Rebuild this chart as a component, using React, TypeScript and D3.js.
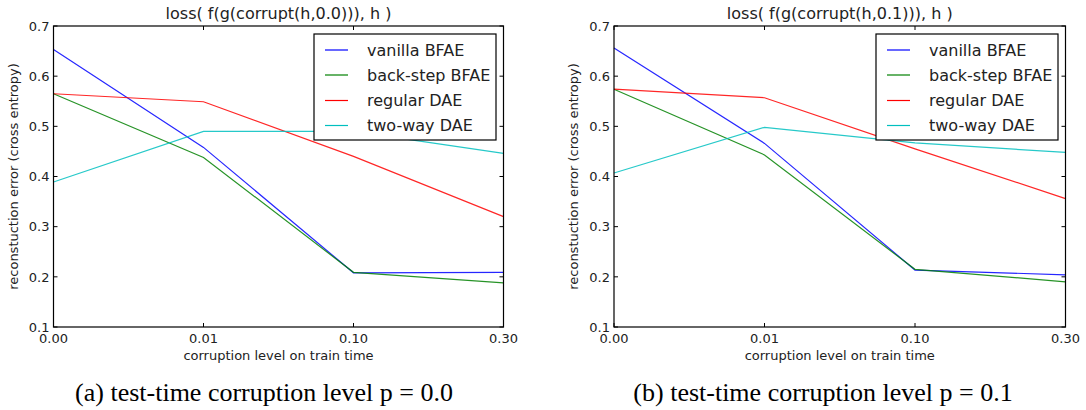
import React from 'react';
import * as d3 from 'd3';

// train-time corruption levels (x axis, evenly spaced categories)
const categories = ['0.00', '0.01', '0.10', '0.30'];
const yTicks = [0.1, 0.2, 0.3, 0.4, 0.5, 0.6, 0.7];

const seriesNames = ['vanilla BFAE', 'back-step BFAE', 'regular DAE', 'two-way DAE'];
const seriesColors = ['#0000ff', '#008000', '#ff0000', '#00bfbf'];

// panel (a): test-time corruption p = 0.0
const vanillaA = [0.653, 0.458, 0.208, 0.209];
const backStepA = [0.565, 0.438, 0.209, 0.188];
const regularA = [0.565, 0.549, 0.44, 0.32];
const twoWayA = [0.389, 0.49, 0.49, 0.446];

// panel (b): test-time corruption p = 0.1
const vanillaB = [0.656, 0.466, 0.2135, 0.204];
const backStepB = [0.574, 0.443, 0.215, 0.19];
const regularB = [0.574, 0.557, 0.455, 0.356];
const twoWayB = [0.407, 0.498, 0.467, 0.448];

const panels = [
  {
    title: 'loss( f(g(corrupt(h,0.0))), h )',
    caption: '(a) test-time corruption level p = 0.0',
    series: [vanillaA, backStepA, regularA, twoWayA],
    left: 53.5,
    right: 503.5,
    captionX: 264,
  },
  {
    title: 'loss( f(g(corrupt(h,0.1))), h )',
    caption: '(b) test-time corruption level p = 0.1',
    series: [vanillaB, backStepB, regularB, twoWayB],
    left: 614,
    right: 1065.5,
    captionX: 823,
  },
];

const TOP = 26;
const BOTTOM = 327;
const FONT = '"DejaVu Sans", sans-serif';
const TICK = 4;

const Panel = ({ p }) => {
  const x = d3.scalePoint().domain(categories).range([p.left, p.right]);
  const y = d3.scaleLinear().domain([0.1, 0.7]).range([BOTTOM, TOP]);
  const line = d3
    .line<number>()
    .x((_, i) => x(categories[i]))
    .y((d) => y(d));

  const lgRight = p.right - 7.5;
  const lgLeft = lgRight - 182;
  const lgTop = TOP + 8;
  const rowY = [16, 41, 66.5, 91.5];
  const midX = (p.left + p.right) / 2;
  const midY = (TOP + BOTTOM) / 2;

  return (
    <g>
      {p.series.map((vals, i) => (
        <path
          key={i}
          d={line(vals)}
          fill="none"
          stroke={seriesColors[i]}
          strokeWidth={1.2}
          strokeOpacity={0.85}
        />
      ))}

      {/* ticks, pointing inward on all four sides */}
      {categories.map((c) => (
        <g key={c}>
          <line x1={x(c)} x2={x(c)} y1={BOTTOM} y2={BOTTOM - TICK} stroke="#000" />
          <line x1={x(c)} x2={x(c)} y1={TOP} y2={TOP + TICK} stroke="#000" />
          <text
            x={x(c)}
            y={BOTTOM + 16}
            textAnchor="middle"
            fontFamily={FONT}
            fontSize={13}
            fill="#222"
          >
            {c}
          </text>
        </g>
      ))}
      {yTicks.map((t) => (
        <g key={t}>
          <line x1={p.left} x2={p.left + TICK} y1={y(t)} y2={y(t)} stroke="#000" />
          <line x1={p.right} x2={p.right - TICK} y1={y(t)} y2={y(t)} stroke="#000" />
          <text
            x={p.left - 4}
            y={y(t) + 4.7}
            textAnchor="end"
            fontFamily={FONT}
            fontSize={13}
            fill="#222"
          >
            {t.toFixed(1)}
          </text>
        </g>
      ))}

      <rect
        x={p.left}
        y={TOP}
        width={p.right - p.left}
        height={BOTTOM - TOP}
        fill="none"
        stroke="#000"
        strokeWidth={1.2}
      />

      {/* legend */}
      <rect
        x={lgLeft}
        y={lgTop}
        width={182}
        height={106}
        fill="#fff"
        stroke="#000"
        strokeWidth={1.2}
      />
      {seriesNames.map((name, i) => (
        <g key={name}>
          <line
            x1={lgLeft + 11}
            x2={lgLeft + 34}
            y1={lgTop + rowY[i]}
            y2={lgTop + rowY[i]}
            stroke={seriesColors[i]}
            strokeWidth={1.2}
          />
          <text
            x={lgLeft + 53}
            y={lgTop + rowY[i] + 5.8}
            fontFamily={FONT}
            fontSize={16}
            fill="#222"
          >
            {name}
          </text>
        </g>
      ))}

      <text x={midX} y={19} textAnchor="middle" fontFamily={FONT} fontSize={16} fill="#222">
        {p.title}
      </text>
      <text x={midX} y={360} textAnchor="middle" fontFamily={FONT} fontSize={13} fill="#222">
        corruption level on train time
      </text>
      <text
        transform={`translate(${p.left - 36},${midY}) rotate(-90)`}
        textAnchor="middle"
        fontFamily={FONT}
        fontSize={13}
        fill="#222"
      >
        reconstuction error (cross entropy)
      </text>
      <text
        x={p.captionX}
        y={401}
        textAnchor="middle"
        fontFamily='"Liberation Serif", "Times New Roman", serif'
        fontSize={26}
        fill="#000"
      >
        {p.caption}
      </text>
    </g>
  );
};

export default function App() {
  return (
    <svg
      width={1086}
      height={410}
      style={{ position: 'absolute', left: 0, top: 0, background: '#fff' }}
    >
      {panels.map((p, i) => (
        <Panel key={i} p={p} />
      ))}
    </svg>
  );
}
